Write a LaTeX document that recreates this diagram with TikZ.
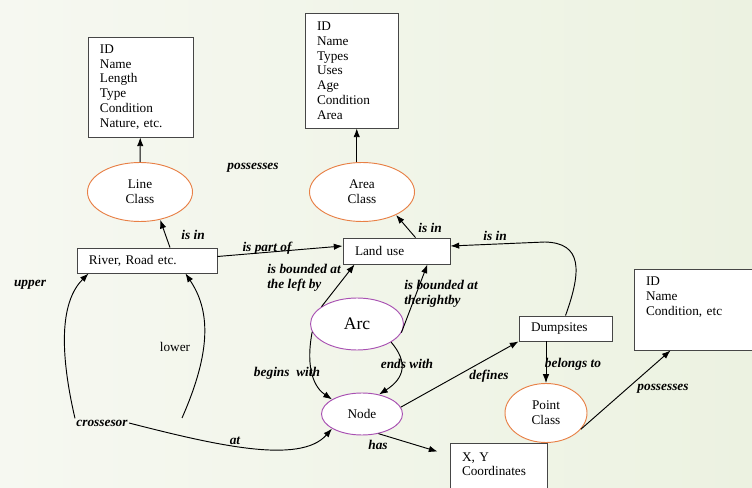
\documentclass[tikz,border=0pt]{standalone}
\usepackage{fontspec}
\setmainfont{Liberation Serif}
\usepackage{tikz}
\usetikzlibrary{calc, shapes.geometric, arrows.meta}
\definecolor{bgleft}{RGB}{246,248,241}
\definecolor{bgright}{RGB}{236,242,225}
\definecolor{classorange}{RGB}{232,128,70}
\definecolor{arcpurple}{RGB}{168,80,178}
\definecolor{boxgray}{RGB}{70,70,70}
\tikzstyle{attrbox}   = [draw=boxgray,line width=0.7pt,fill=white,align=left,inner xsep=0.36cm]
\tikzstyle{tagbox}    = [draw=boxgray,line width=0.7pt,fill=white,align=left,inner xsep=0.36cm,inner ysep=0pt]
\tikzstyle{classell}  = [ellipse,draw=classorange,line width=0.8pt,fill=white,align=center,inner sep=0pt]
\tikzstyle{arcell}    = [ellipse,draw=arcpurple,line width=0.8pt,fill=white,align=center,inner sep=0pt]
\tikzstyle{lbl}       = [font=\fontsize{11.4}{12.6}\selectfont\bfseries\itshape,inner sep=1pt,align=left]
\tikzstyle{link}      = [line width=0.8pt,-{Latex[length=7.5pt,width=5.5pt]}]

\begin{document}
\begin{tikzpicture}[x=0.03cm,y=-0.03cm,font=\fontsize{11.3}{12.6}\selectfont]
  \clip (0,0) rectangle (752,488);
  \shade[left color=bgleft,right color=bgright] (0,0) rectangle (752,488);

  %put the attribute boxes on top
  \node[attrbox,text width=2.43cm,minimum height=3cm] (lineattr) at (140.5,87)
    {ID\\Name\\Length\\Type\\Condition\\Nature, etc.};
  \node[attrbox,text width=2.07cm,minimum height=3.45cm] (areaattr) at (351.5,70.5)
    {ID\\Name\\Types\\Uses\\Age\\Condition\\Area};
  \node[attrbox,text width=3.6cm,minimum height=2.43cm] (pointattr) at (706,309.5)
    {ID\\Name\\Condition, etc\\[10pt]\mbox{}};

  %put the classes
  \node[classell,minimum width=3.15cm,minimum height=1.77cm] (lineclass) at (140,192) {Line\\Class};
  \node[classell,minimum width=3.15cm,minimum height=1.77cm] (areaclass) at (362,192) {Area\\Class};
  \node[classell,minimum width=2.46cm,minimum height=1.77cm] (pointclass) at (546,413) {Point\\Class};

  %put the features
  \node[tagbox,text width=3.48cm,minimum height=0.75cm] (river) at (147,260.5) {River, Road etc.};
  \node[tagbox,text width=2.49cm,minimum height=0.78cm] (landuse) at (396.5,251) {Land use};
  \node[tagbox,text width=2.07cm,minimum height=0.75cm] (dump) at (565.5,328.5) {Dumpsites};
  \node[tagbox,text width=2.19cm,minimum height=1.71cm] (xy) at (498.5,471.5) {X, Y\\Coordinates\\\mbox{}};

  %put arc and node
  \node[arcell,minimum width=2.79cm,minimum height=1.56cm,font=\fontsize{15}{17}\selectfont] (arc) at (357,324) {Arc};
  \node[arcell,minimum width=2.43cm,minimum height=1.26cm] (node) at (362,414) {Node};

  %put the labels
  \node[lbl] (possesstop) at (253,168) {possesses};
  \node[lbl] (isinline) at (193,235) {is in};
  \node[lbl] (partof) at (267,248) {is part of};
  \node[lbl] (isinarea) at (430,228) {is in};
  \node[lbl] (isindump) at (495,236) {is in};
  \node[lbl] (upper) at (30,285) {upper};
  \node[inner sep=1pt] (lower) at (175,347) {lower};
  \node[lbl] (leftby) at (304,278) {is bounded at\\the left by};
  \node[lbl] (rightby) at (441,294) {is bounded at\\therightby};
  \node[lbl] (begins) at (287,373) {begins\ \ with};
  \node[lbl] (ends) at (407,364) {ends with};
  \node[lbl] (defines) at (489,376) {defines};
  \node[lbl] (has) at (378,445) {has};
  \node[lbl] (belongs) at (573,364) {belongs to};
  \node[lbl] (possessright) at (663,389) {possesses};
  \node[lbl] (crossesor) at (102,423) {crossesor};
  \node[lbl] (at) at (235,441) {at};
  \coordinate (lowfoot) at (182,418);

  %connect everything
  \draw[link] (lineclass) -- (lineattr);
  \draw[link] (areaclass.100) -- (areaclass.100 |- areaattr.south);
  \draw[link] ($(river.north)+(23,0)$) -- (lineclass.-54);
  \draw[link] ($(river.east)+(0,-4)$) -- ($(landuse.west)+(0,-5)$);
  \draw[link] ($(landuse.north)+(19,0)$) -- (areaclass.-34);
  \draw[link] (dump.north) .. controls (582,270) and (582,243) .. (545,242) -- ($(landuse.east)+(0,-5)$);
  \draw[link] (arc.154) -- ($(landuse.south west)+(12,0)$);
  \draw[link] (arc.-11) -- ($(landuse.south east)+(-23,0)$);
  \draw[link] (arc.190) .. controls (305,370) and (315,388) .. (node.154);
  \draw[link] (arc.-28) .. controls (408,362) and (405,378) .. (node.49);
  \draw[link] (node.10) -- (dump.south west);
  \draw[link] (node.-50) -- ($(xy.north west)+(-12,9)$);
  \draw[link] (pointclass.north |- dump.south) -- (pointclass.north);
  \draw[link] (pointclass.-25) -- ($(pointattr.south west)+(37,0)$);
  \draw[link] (crossesor.north west) .. controls (58,345) and (62,300) .. ($(river.south west)+(12,0)$);
  \draw[link] (lowfoot) .. controls (212,350) and (210,310) .. ($(river.south east)+(-32,0)$);
  \draw[link] (crossesor.east) .. controls (215,445) and (300,465) .. (node.206);
\end{tikzpicture}
\end{document}
